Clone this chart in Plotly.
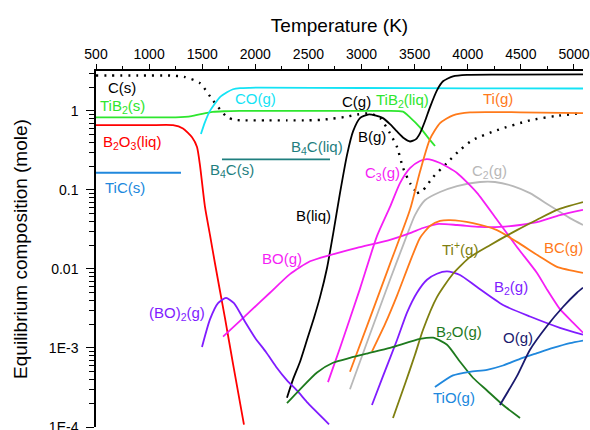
import plotly.graph_objects as go

# ---------------- data (Temperature K, moles) ----------------
cs_T = [500, 900, 1200, 1330, 1480, 1600, 1735, 1810, 1900, 2100, 2300, 2500, 2620, 2730, 2850, 2960, 3080, 3175, 3268, 3334, 3391, 3456, 3522]
cs_v = [2.8, 2.8, 2.8, 2.7, 2.24, 1.36, 0.83, 0.77, 0.76, 0.76, 0.76, 0.76, 0.77, 0.8, 0.84, 0.9, 0.93, 0.81, 0.52, 0.35, 0.19, 0.122, 0.091]

cg_T = [3522, 3578, 3673, 3805, 3927, 4049, 4275, 4586, 4821, 5085]
cg_v = [0.091, 0.099, 0.145, 0.22, 0.32, 0.43, 0.57, 0.76, 0.86, 0.94]

tib2s_T = [500, 1000, 1250, 1400, 1500, 1600, 1700, 1850, 2000, 2500, 2900]
tib2s_v = [0.83, 0.83, 0.83, 0.86, 0.92, 0.97, 0.99, 1.0, 1.0, 1.0, 1.0]

tib2l_T = [2900, 3200, 3390, 3456, 3550, 3626, 3692]
tib2l_v = [1.0, 1.0, 0.98, 0.83, 0.62, 0.46, 0.36]

co_T = [1488, 1526, 1573, 1667, 1733, 1790, 1856, 1950, 2044, 3000, 4000, 5085]
co_v = [0.51, 0.72, 1.0, 1.49, 1.72, 1.88, 1.94, 1.96, 1.97, 1.95, 1.93, 1.92]

b2o3_T = [500, 1000, 1225, 1319, 1404, 1451, 1479, 1526, 1573, 1620, 1667, 1714, 1790, 1893]
b2o3_v = [0.66, 0.66, 0.66, 0.60, 0.465, 0.35, 0.205, 0.061, 0.027, 0.0118, 0.0053, 0.0024, 6.3e-4, 1.07e-4]

tic_T = [500, 1300]
tic_v = [0.165, 0.165]

b4c_T = [1686, 2703]
b4c_v = [0.243, 0.243]

b_T = [2298, 2355, 2421, 2486, 2552, 2609, 2675, 2731, 2797, 2863, 2920, 2985, 3061, 3127, 3202,
       3268, 3334, 3400, 3456, 3513, 3550, 3597, 3644, 3710, 3767, 3861, 3993, 4300, 5085]
b_v = [2.35e-4, 4.0e-4, 6.7e-4, 1.26e-3, 2.4e-3, 4.4e-3, 0.0103, 0.027, 0.091, 0.276, 0.55, 0.81, 0.90, 0.88, 0.81,
       0.68, 0.55, 0.45, 0.41, 0.44, 0.52, 0.74, 1.11, 1.82, 2.37, 2.74, 2.86, 2.88, 2.9]

ti_T = [2891, 3080, 3268, 3456, 3550, 3644, 3739, 3861, 4021, 4492, 5085]
ti_v = [5e-4, 2.4e-3, 0.0116, 0.056, 0.17, 0.44, 0.70, 0.88, 0.96, 0.96, 0.935]

bc_T = [3098, 3221, 3334, 3456, 3550, 3644, 3739, 3833, 4049, 4275, 4463, 4680, 4840, 5085]
bc_v = [9e-4, 2.0e-3, 4.6e-3, 0.0123, 0.0247, 0.035, 0.0405, 0.0415, 0.038, 0.031, 0.022, 0.0143, 0.0106, 0.0089]

c2_T = [2891, 3080, 3268, 3409, 3503, 3597, 3739, 3899, 4115, 4256, 4426, 4586, 4774, 4962, 5085]
c2_v = [3e-4, 1.5e-3, 7.3e-3, 0.023, 0.048, 0.074, 0.094, 0.112, 0.126, 0.126, 0.112, 0.091, 0.063, 0.044, 0.036]

c3_T = [2684, 2797, 2985, 3145, 3268, 3362, 3456, 3550, 3616, 3739, 3899, 4087, 4275, 4463, 4652, 4746, 4868, 4991, 5085]
c3_v = [3.7e-4, 1.0e-3, 5.6e-3, 0.026, 0.061, 0.122, 0.189, 0.232, 0.245, 0.219, 0.164, 0.092, 0.042, 0.019,
        0.0089, 0.0055, 0.0031, 0.0021, 0.00156]

bo_T = [1696, 1856, 1950, 2138, 2326, 2515, 2703, 2957, 3268, 3456, 3578, 3710, 3899, 4115, 4303, 4492, 4680, 4868, 5085]
bo_v = [1.39e-3, 2.2e-3, 2.9e-3, 5.0e-3, 8.6e-3, 0.0125, 0.0150, 0.0185, 0.0233, 0.0284, 0.033, 0.037, 0.036,
        0.034, 0.034, 0.036, 0.040, 0.048, 0.056]

bo2_T = [1498, 1573, 1649, 1724, 1799, 1903, 1997, 2100, 2195, 2298, 2402, 2496, 2694]
bo2_v = [1.03e-3, 2.3e-3, 3.7e-3, 4.3e-3, 3.7e-3, 2.15e-3, 1.35e-3, 8.9e-4, 5.8e-4, 3.9e-4, 2.8e-4, 2.0e-4, 1.08e-4]

b2o_T = [2298, 2421, 2581, 2731, 2891, 3051, 3268, 3550, 3673, 3805, 3927, 4049, 4181, 4332, 4492]
b2o_v = [2.0e-4, 3.0e-4, 4.9e-4, 6.5e-4, 7.5e-4, 8.5e-4, 1.0e-3, 1.3e-3, 1.35e-3, 1.1e-3, 6.7e-4, 4.2e-4,
         2.9e-4, 1.9e-4, 1.3e-4]

b2_T = [3098, 3202, 3334, 3428, 3522, 3616, 3710, 3805, 3927, 4087, 4332, 4586, 4868, 5085]
b2_v = [1.9e-4, 4.4e-4, 1.26e-3, 2.8e-3, 5.0e-3, 7.3e-3, 8.7e-3, 9.3e-3, 8.4e-3, 5.9e-3, 3.5e-3, 2.5e-3, 1.8e-3, 1.47e-3]

tip_T = [3296, 3409, 3503, 3579, 3710, 3861, 4021, 4209, 4463, 4652, 4840, 5085]
tip_v = [1.3e-4, 3.5e-4, 8.2e-4, 1.7e-3, 4.4e-3, 8.7e-3, 0.0141, 0.020, 0.031, 0.042, 0.056, 0.070]

tio_T = [3691, 3861, 4021, 4181, 4332, 4492, 4652, 4802, 4962, 5085]
tio_v = [3.2e-4, 4.5e-4, 5.0e-4, 5.3e-4, 6.0e-4, 7.3e-4, 8.6e-4, 1.0e-3, 1.15e-3, 1.24e-3]

o_T = [4303, 4463, 4586, 4746, 4896, 5028, 5085]
o_v = [1.9e-4, 4.4e-4, 9.5e-4, 1.9e-3, 3.3e-3, 5.0e-3, 5.8e-3]

y_tickvals = [1e-4, 1e-3, 1e-2, 1e-1, 1]
y_ticktext = ["1E-4", "1E-3", "0.01", "0.1", "1"]

# labels: (text, T, log10 value, colour)
labels = [
    ("C(s)", 745, 0.30, "#000000"),
    ("TiB<sub>2</sub>(s)", 754, 0.062, "#2ee62e"),
    ("B<sub>2</sub>O<sub>3</sub>(liq)", 839, -0.394, "#ff0000"),
    ("TiC(s)", 773, -0.963, "#2088dd"),
    ("CO(g)", 2006, 0.151, "#14e3f5"),
    ("B<sub>4</sub>C(s)", 1780, -0.748, "#1f7f7f"),
    ("B<sub>4</sub>C(liq)", 2581, -0.457, "#1f7f7f"),
    ("C(g)", 2957, 0.125, "#000000"),
    ("TiB<sub>2</sub>(liq)", 3381, 0.138, "#2ee62e"),
    ("Ti(g)", 4285, 0.151, "#ff7a1a"),
    ("B(g)", 3098, -0.33, "#000000"),
    ("B(liq)", 2552, -1.318, "#000000"),
    ("C<sub>3</sub>(g)", 3193, -0.786, "#f51ef5"),
    ("C<sub>2</sub>(g)", 4209, -0.761, "#b8b8b8"),
    ("BO(g)", 2251, -1.862, "#f51ef5"),
    ("Ti<sup>+</sup>(g)", 3927, -1.735, "#7f7f10"),
    ("BC(g)", 4897, -1.723, "#ff7a1a"),
    ("(BO)<sub>2</sub>(g)", 1263, -2.558, "#801cff"),
    ("B<sub>2</sub>(g)", 4407, -2.229, "#801cff"),
    ("B<sub>2</sub>O(g)", 3917, -2.799, "#1e7a1e"),
    ("O(g)", 4473, -2.862, "#1a1a6e"),
    ("TiO(g)", 3870, -3.622, "#2088dd"),
]

series = [
    ("C(s)", cs_T, cs_v, "#000000", "2px,6px", "spline"),
    ("C(g)", cg_T, cg_v, "#000000", "2px,6px", "spline"),
    ("TiB2(s)", tib2s_T, tib2s_v, "#2ee62e", "solid", "spline"),
    ("TiB2(liq)", tib2l_T, tib2l_v, "#2ee62e", "solid", "spline"),
    ("CO(g)", co_T, co_v, "#14e3f5", "solid", "spline"),
    ("B2O3(liq)", b2o3_T, b2o3_v, "#ff0000", "solid", "spline"),
    ("TiC(s)", tic_T, tic_v, "#2088dd", "solid", "linear"),
    ("B4C(s)", b4c_T, b4c_v, "#1f7f7f", "solid", "linear"),
    ("B", b_T, b_v, "#000000", "solid", "spline"),
    ("C2(g)", c2_T, c2_v, "#b8b8b8", "solid", "spline"),
    ("BO(g)", bo_T, bo_v, "#f51ef5", "solid", "spline"),
    ("C3(g)", c3_T, c3_v, "#f51ef5", "solid", "spline"),
    ("Ti(g)", ti_T, ti_v, "#ff7a1a", "solid", "spline"),
    ("BC(g)", bc_T, bc_v, "#ff7a1a", "solid", "spline"),
    ("(BO)2(g)", bo2_T, bo2_v, "#801cff", "solid", "spline"),
    ("B2(g)", b2_T, b2_v, "#801cff", "solid", "spline"),
    ("Ti+(g)", tip_T, tip_v, "#7f7f10", "solid", "spline"),
    ("B2O(g)", b2o_T, b2o_v, "#1e7a1e", "solid", "spline"),
    ("TiO(g)", tio_T, tio_v, "#2088dd", "solid", "spline"),
    ("O(g)", o_T, o_v, "#1a1a6e", "solid", "spline"),
]

FONT = "Liberation Sans, Arial, sans-serif"

fig = go.Figure()
for name, T, v, col, dash, shape in series:
    w = 2.4 if dash != "solid" else 1.8
    line = dict(color=col, width=w, dash=dash, shape=shape)
    if shape == "spline":
        line["smoothing"] = 0.6
    fig.add_trace(go.Scatter(x=T, y=v, mode="lines", name=name, line=line, hoverinfo="skip"))

for text, T, ly, col in labels:
    fig.add_annotation(x=T, y=ly, xref="x", yref="y", text=text, showarrow=False,
                       font=dict(color=col, size=15, family=FONT),
                       xanchor="center", yanchor="middle")

minor_y = [m * 10 ** e for e in range(-4, 1) for m in range(2, 10)]

fig.update_layout(
    width=590, height=430,
    margin=dict(l=96, r=7, t=71, b=3),
    plot_bgcolor="white", paper_bgcolor="white",
    showlegend=False,
    font=dict(family=FONT, color="#000000", size=14),
    xaxis=dict(
        side="top", range=[500, 5085], tickmode="linear", tick0=500, dtick=500,
        automargin=False,
        showgrid=False, zeroline=False, showline=True, linecolor="#000", linewidth=1.5,
        ticks="outside", ticklen=5, tickwidth=1.3, tickcolor="#000",
        tickfont=dict(size=14, family=FONT), ticklabeloverflow="allow",
        minor=dict(ticks="outside", ticklen=3, tickwidth=1.2, tickcolor="#000", dtick=250, tick0=500),
        title=dict(text="Temperature (K)", font=dict(size=19, family=FONT), standoff=8),
    ),
    yaxis=dict(
        type="log", range=[-4, 0.505],
        tickmode="array", tickvals=y_tickvals, ticktext=y_ticktext,
        automargin=False,
        showgrid=False, zeroline=False, showline=True, linecolor="#000", linewidth=1.5,
        ticks="outside", ticklen=8, tickwidth=1.3, tickcolor="#000",
        tickfont=dict(size=14, family=FONT), ticklabeloverflow="allow", ticklabelstandoff=5,
        minor=dict(ticks="outside", ticklen=5, tickwidth=1, tickcolor="#000", tickvals=minor_y),
        title=dict(text="Equilibrium composition (mole)", font=dict(size=19, family=FONT), standoff=16),
    ),
)

fig.write_html("out.html")
